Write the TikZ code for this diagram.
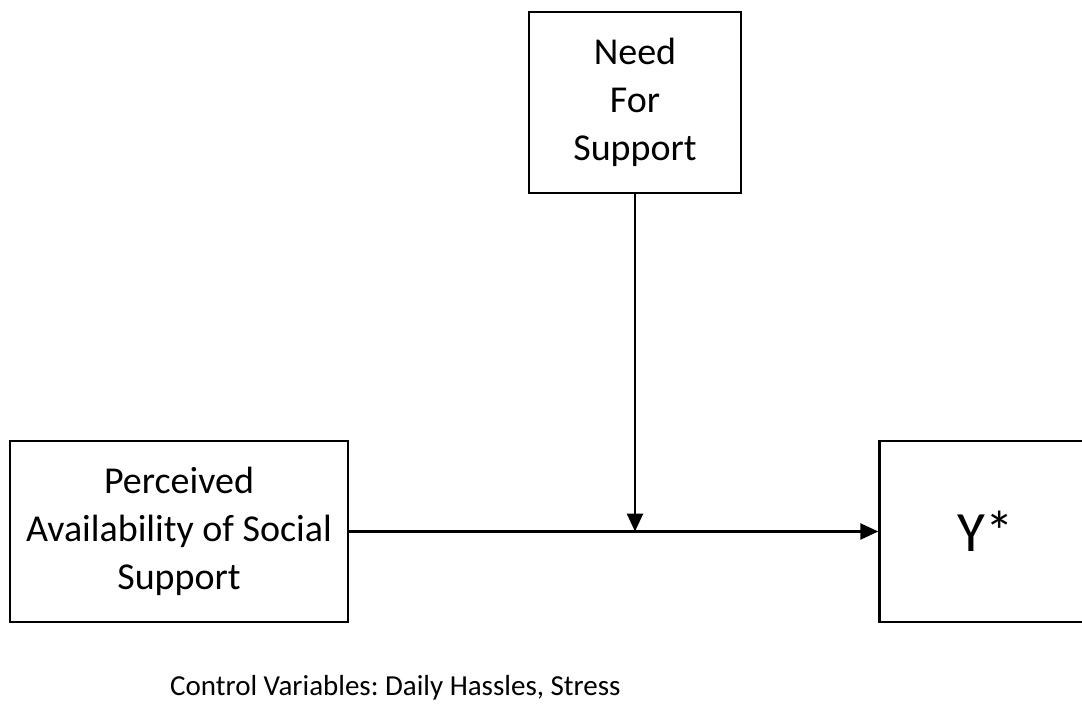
\documentclass[tikz,border=0pt]{standalone}
\usepackage{fontspec}
\setmainfont{Carlito}
\usetikzlibrary{arrows.meta, positioning}
\frenchspacing

\begin{document}
\begin{tikzpicture}[x=1pt, y=1pt, node distance=529pt,
    varbox/.style={rectangle, draw, line width=2.6pt, minimum height=181pt, inner sep=0pt, align=center, font=\fontsize{38}{48}\selectfont},
    link/.style={-{Triangle[length=18pt, width=16pt]}, line width=2.6pt}]
    \useasboundingbox (0,0) rectangle (1082,-707);
    \node (percv) [varbox, minimum width=338pt] at (179,-531.5) {Perceived\\Availability of Social\\Support};
    \node (ystar) [varbox, minimum width=212pt, right=of percv, font=\fontsize{57}{60}\selectfont] {Y*};
    \node (need) [varbox, minimum width=212pt] at (635,-102.5) {Need\\For\\Support};
    \node (ctrl) [anchor=base west, inner sep=0pt, font=\fontsize{29}{34}\selectfont] at (170,-695) {Control Variables: Daily Hassles, Stress};

    \draw [link] (percv) -- (ystar);
    \draw [link] (need) -- (need |- percv.east);
\end{tikzpicture}
\end{document}
